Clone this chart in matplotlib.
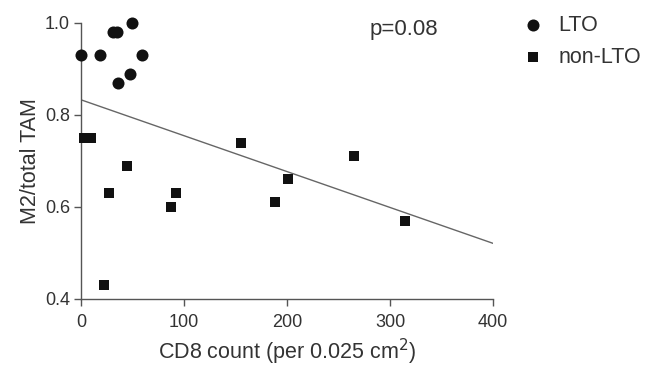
import matplotlib
matplotlib.use("Agg")
import matplotlib.pyplot as plt
import numpy as np

plt.rcParams['font.family'] = ['Liberation Sans', 'DejaVu Sans']

# Data
lto_x = [0, 18, 31, 35, 50, 59.5, 47.5, 36]
lto_y = [0.93, 0.93, 0.98, 0.98, 1.00, 0.93, 0.89, 0.87]
non_x = [3, 10, 155, 45, 27, 92, 87, 22, 265, 201, 188, 315]
non_y = [0.75, 0.75, 0.74, 0.69, 0.63, 0.63, 0.60, 0.43, 0.71, 0.66, 0.61, 0.57]
fit_intercept = 0.833
fit_slope = -0.00078
x_ticks = [0, 100, 200, 300, 400]
y_ticks = [0.4, 0.6, 0.8, 1.0]
p_text = "p=0.08"

fig = plt.figure(figsize=(6.49, 3.73), dpi=100)
ax = fig.add_axes([0.1248, 0.1984, 0.6348, 0.740])

spine_col = '#555555'
ax.scatter(lto_x, lto_y, marker='o', s=75, color='#111111', label='LTO',
           clip_on=False, zorder=3, linewidths=0)
ax.scatter(non_x, non_y, marker='s', s=58, color='#111111', label='non-LTO',
           clip_on=False, zorder=3, linewidths=0)

fx = np.array([0, 400])
ax.plot(fx, fit_intercept + fit_slope * fx, color='#666666', lw=1.0, zorder=2)

ax.set_xlim(0, 400)
ax.set_ylim(0.4, 1.0)
ax.set_xticks(x_ticks)
ax.set_yticks(y_ticks)
ax.set_xticklabels([str(t) for t in x_ticks])
ax.set_yticklabels([f"{t:.1f}" for t in y_ticks])
for s in ['top', 'right']:
    ax.spines[s].set_visible(False)
for s in ['left', 'bottom']:
    ax.spines[s].set_color(spine_col)
    ax.spines[s].set_linewidth(1.0)
ax.tick_params(axis='both', colors=spine_col, labelcolor='#333333',
               labelsize=13, length=5, width=1.0)
ax.tick_params(axis='x', pad=6)
ax.tick_params(axis='y', pad=3)

ax.set_xlabel("CD8 count (per 0.025 cm$^2$)", fontsize=15.5, color='#333333', labelpad=4)
ax.set_ylabel("M2/total TAM", fontsize=15.5, color='#333333', labelpad=3)

ax.text(280, 0.985, p_text, fontsize=16, color='#333333', va='center', ha='left')

leg = ax.legend(loc='upper left', bbox_to_anchor=(1.025, 1.06), frameon=False,
                fontsize=15.5, handletextpad=0.15, labelspacing=0.5,
                borderaxespad=0, scatterpoints=1)
for t in leg.get_texts():
    t.set_color('#333333')

fig.savefig("out.png", dpi=100)
